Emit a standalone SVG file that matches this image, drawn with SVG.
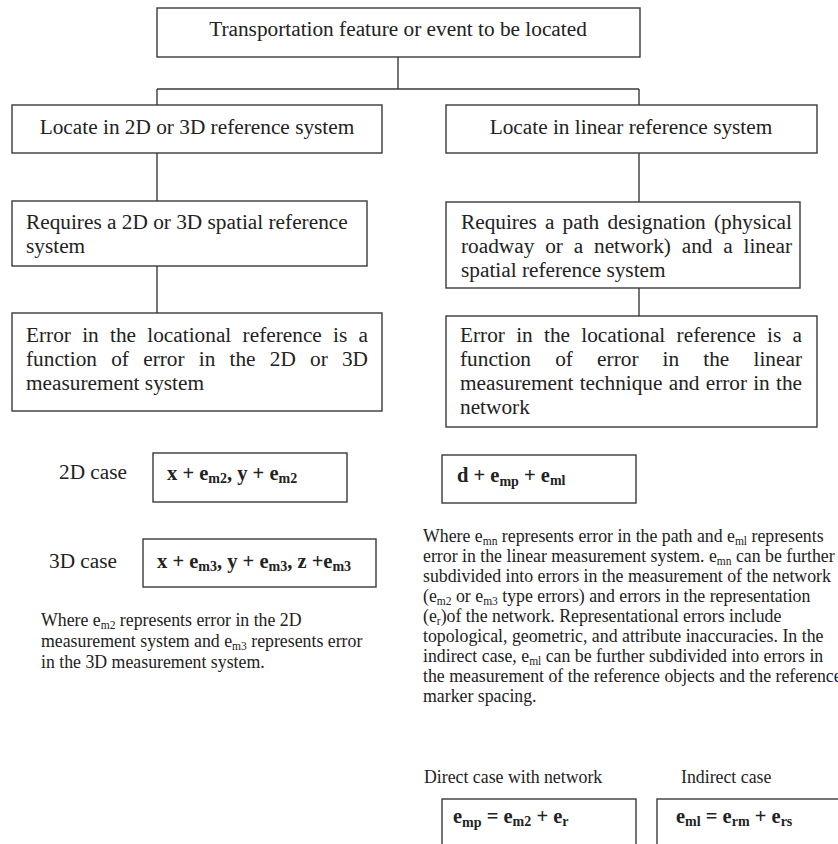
<svg xmlns="http://www.w3.org/2000/svg" width="838" height="844" viewBox="0 0 838 844">
<style>
  .box { fill: #ffffff; stroke: #3a3a3a; stroke-width: 1.4; }
  .conn { fill: none; stroke: #3a3a3a; stroke-width: 1.4; }
  .t { font-family: "Liberation Serif", "Times New Roman", serif; font-size: 21.3px; fill: #222222; }
  .c { text-anchor: middle; }
  .e { text-anchor: end; }
  .f { font-family: "Liberation Serif", "Times New Roman", serif; font-size: 20.5px; font-weight: bold; fill: #222222; }
  .fs { font-size: 14px; }
  .p { font-family: "Liberation Serif", "Times New Roman", serif; font-size: 17.8px; fill: #222222; }
  .ps { font-size: 11.5px; }
</style>
<rect width="838" height="844" fill="#ffffff"/>

<g id="connectors">
  <path class="conn" d="M398 57 V89"/>
  <path class="conn" d="M157 89 H639"/>
  <path class="conn" d="M157 89 V105"/>
  <path class="conn" d="M639 89 V105"/>
  <path class="conn" d="M157 153 V201"/>
  <path class="conn" d="M639 153 V202"/>
  <path class="conn" d="M157 266 V313"/>
  <path class="conn" d="M639 288 V316"/>
</g>

<g id="top">
  <rect class="box" x="157" y="8" width="483" height="49"/>
  <text class="t c" x="398" y="36">Transportation feature or event to be located</text>
</g>

<g id="locate2d">
  <rect class="box" x="12" y="105" width="370" height="48"/>
  <text class="t c" x="197" y="134">Locate in 2D or 3D reference system</text>
</g>

<g id="locatelinear">
  <rect class="box" x="446" y="105" width="371" height="48"/>
  <text class="t c" x="631" y="134">Locate in linear reference system</text>
</g>

<g id="requires2d">
  <rect class="box" x="12" y="201" width="355" height="65"/>
  <text class="t" x="26" y="229">Requires a 2D or 3D spatial reference</text>
  <text class="t" x="26" y="253">system</text>
</g>

<g id="requireslinear">
  <rect class="box" x="446" y="202" width="354" height="86"/>
  <text class="t" y="229"><tspan x="461">Requires</tspan><tspan x="544.9">a</tspan><tspan x="562.6">path</tspan><tspan x="607.5">designation</tspan></text>
  <text class="t e" x="792" y="229">(physical</text>
  <text class="t" y="253"><tspan x="461">roadway</tspan><tspan x="545.2">or</tspan><tspan x="573.7">a</tspan><tspan x="594">network)</tspan><tspan x="681.7">and</tspan><tspan x="723.2">a</tspan></text>
  <text class="t e" x="792" y="253">linear</text>
  <text class="t" x="461" y="277">spatial reference system</text>
</g>

<g id="error2d">
  <rect class="box" x="12" y="313" width="370" height="98"/>
  <text class="t" y="342"><tspan x="26">Error</tspan><tspan x="82.2">in</tspan><tspan x="110">the</tspan><tspan x="147.3">locational</tspan><tspan x="242.6">reference</tspan><tspan x="333.1">is</tspan></text>
  <text class="t e" x="368" y="342">a</text>
  <text class="t" y="366"><tspan x="26">function</tspan><tspan x="111.2">of</tspan><tspan x="143.2">error</tspan><tspan x="198.8">in</tspan><tspan x="229.5">the</tspan><tspan x="269.8">2D</tspan><tspan x="310">or</tspan></text>
  <text class="t e" x="368" y="366">3D</text>
  <text class="t" x="26" y="390">measurement system</text>
</g>

<g id="errorlinear">
  <rect class="box" x="446" y="316" width="371" height="111"/>
  <text class="t" y="342"><tspan x="460">Error</tspan><tspan x="516.2">in</tspan><tspan x="544">the</tspan><tspan x="581.3">locational</tspan><tspan x="676.6">reference</tspan><tspan x="767.1">is</tspan></text>
  <text class="t e" x="802" y="342">a</text>
  <text class="t" y="366"><tspan x="460">function</tspan><tspan x="555.2">of</tspan><tspan x="597.1">error</tspan><tspan x="662.6">in</tspan><tspan x="703.3">the</tspan></text>
  <text class="t e" x="802" y="366">linear</text>
  <text class="t" y="390"><tspan x="460">measurement</tspan><tspan x="579.7">technique</tspan><tspan x="668.7">and</tspan><tspan x="705.7">error</tspan><tspan x="753.2">in</tspan></text>
  <text class="t e" x="802" y="390">the</text>
  <text class="t" x="460" y="414">network</text>
</g>

<g id="case2d">
  <text class="t" x="59" y="479">2D case</text>
  <rect class="box" x="153" y="453" width="194" height="49"/>
  <text class="f" x="167" y="480">x + e<tspan class="fs" dy="3">m2</tspan><tspan dy="-3">, y + e</tspan><tspan class="fs" dy="3">m2</tspan></text>
</g>

<g id="case3d">
  <text class="t" x="49" y="568">3D case</text>
  <rect class="box" x="143" y="539" width="233" height="48"/>
  <text class="f" x="157" y="568">x + e<tspan class="fs" dy="3">m3</tspan><tspan dy="-3">, y + e</tspan><tspan class="fs" dy="3">m3</tspan><tspan dy="-3">, z +e</tspan><tspan class="fs" dy="3">m3</tspan></text>
</g>

<g id="note2d">
  <text class="p" x="41" y="626">Where e<tspan class="ps" dy="3">m2</tspan><tspan dy="-3"> represents error in the 2D</tspan></text>
  <text class="p" x="41" y="647">measurement system and e<tspan class="ps" dy="3">m3</tspan><tspan dy="-3"> represents error</tspan></text>
  <text class="p" x="41" y="668">in the 3D measurement system.</text>
</g>

<g id="linearformula">
  <rect class="box" x="442" y="455" width="194" height="48"/>
  <text class="f" x="457" y="482">d + e<tspan class="fs" dy="4">mp</tspan><tspan dy="-4"> + e</tspan><tspan class="fs" dy="3">ml</tspan></text>
</g>

<g id="notelinear">
  <text class="p" x="423" y="542">Where e<tspan class="ps" dy="3">mn</tspan><tspan dy="-3"> represents error in the path and e</tspan><tspan class="ps" dy="3">ml</tspan><tspan dy="-3"> represents</tspan></text>
  <text class="p" x="423" y="562">error in the linear measurement system. e<tspan class="ps" dy="3">mn</tspan><tspan dy="-3"> can be further</tspan></text>
  <text class="p" x="423" y="582">subdivided into errors in the measurement of the network</text>
  <text class="p" x="423" y="602">(e<tspan class="ps" dy="3">m2</tspan><tspan dy="-3"> or e</tspan><tspan class="ps" dy="3">m3</tspan><tspan dy="-3"> type errors) and errors in the representation</tspan></text>
  <text class="p" x="423" y="622">(e<tspan class="ps" dy="3">r</tspan><tspan dy="-3">)of the network. Representational errors include</tspan></text>
  <text class="p" x="423" y="642">topological, geometric, and attribute inaccuracies. In the</text>
  <text class="p" x="423" y="662">indirect case, e<tspan class="ps" dy="3">ml</tspan><tspan dy="-3"> can be further subdivided into errors in</tspan></text>
  <text class="p" x="423" y="682">the measurement of the reference objects and the reference</text>
  <text class="p" x="423" y="702">marker spacing.</text>
</g>

<g id="direct">
  <text class="p" x="424" y="783">Direct case with network</text>
  <rect class="box" x="442" y="799" width="194" height="60"/>
  <text class="f" x="453" y="823">e<tspan class="fs" dy="4">mp</tspan><tspan dy="-4"> = e</tspan><tspan class="fs" dy="3">m2</tspan><tspan dy="-3"> + e</tspan><tspan class="fs" dy="3">r</tspan></text>
</g>

<g id="indirect">
  <text class="p" x="681" y="783">Indirect case</text>
  <rect class="box" x="657" y="799" width="200" height="60"/>
  <text class="f" x="676" y="823">e<tspan class="fs" dy="3">ml</tspan><tspan dy="-3"> = e</tspan><tspan class="fs" dy="3">rm</tspan><tspan dy="-3"> + e</tspan><tspan class="fs" dy="3">rs</tspan></text>
</g>
</svg>
